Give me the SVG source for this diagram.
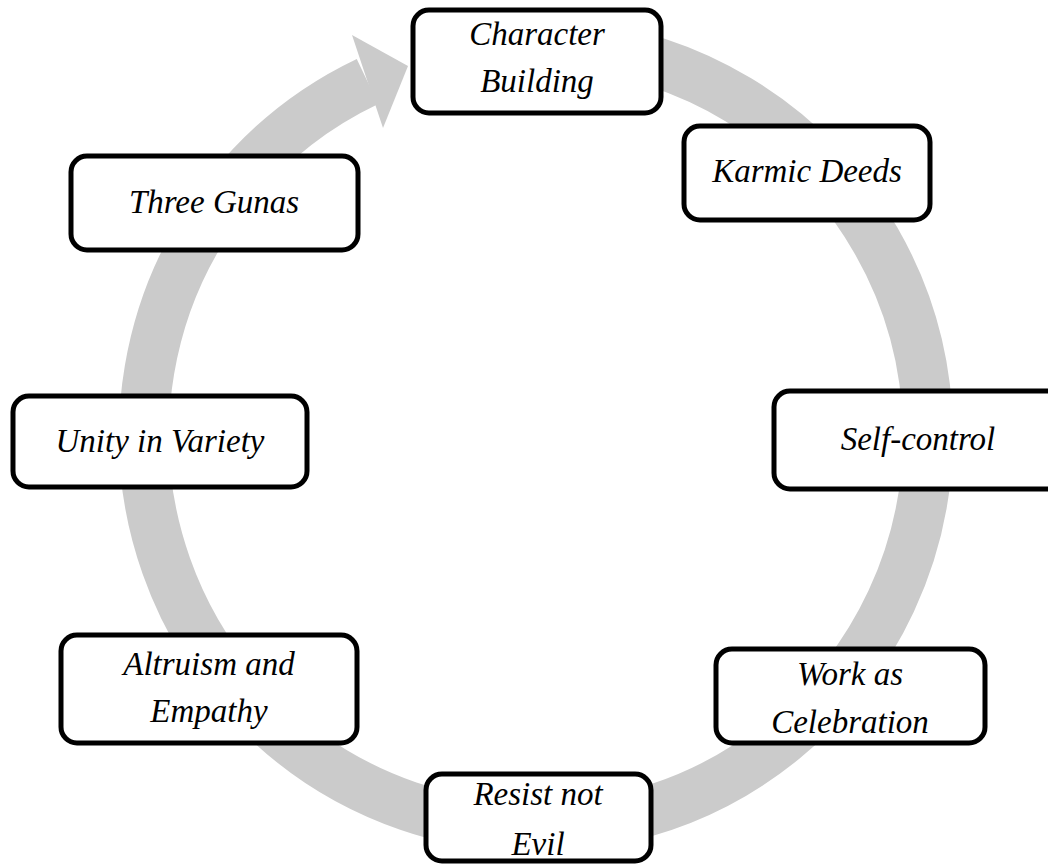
<svg xmlns="http://www.w3.org/2000/svg" width="1048" height="865" viewBox="0 0 1048 865">
  <style>
    .box { fill: #ffffff; stroke: #000000; stroke-width: 5; }
    .lbl { font-family: "Liberation Serif", "DejaVu Serif", serif; font-style: italic; font-size: 33px; fill: #000000; text-anchor: middle; }
    .ring { fill: none; stroke: #cbcbcb; stroke-width: 50; }
    .head { fill: #cbcbcb; }
  </style>
  <rect width="1048" height="865" fill="#ffffff"/>

  <!-- circular flow arrow running clockwise around the cycle -->
  <g id="connectors">
    <path class="ring" d="M 571.7 45.1 A 392 392 0 1 1 367.5 81.5"/>
    <polygon class="head" points="352,35 408,66 383,128"/>
  </g>

  <g id="node-character-building">
    <rect class="box" x="413" y="10" width="248" height="103" rx="16"/>
    <text class="lbl" x="537" y="45">Character</text>
    <text class="lbl" x="537" y="92">Building</text>
  </g>

  <g id="node-karmic-deeds">
    <rect class="box" x="684" y="126" width="246" height="94" rx="16"/>
    <text class="lbl" x="807" y="182">Karmic Deeds</text>
  </g>

  <g id="node-self-control">
    <rect class="box" x="774" y="391" width="290" height="98" rx="16"/>
    <text class="lbl" x="918" y="450">Self-control</text>
  </g>

  <g id="node-work-as-celebration">
    <rect class="box" x="716" y="649" width="269" height="94" rx="16"/>
    <text class="lbl" x="850" y="685">Work as</text>
    <text class="lbl" x="850" y="733">Celebration</text>
  </g>

  <g id="node-resist-not-evil">
    <rect class="box" x="426" y="774" width="225" height="87" rx="16"/>
    <text class="lbl" x="538" y="805">Resist not</text>
    <text class="lbl" x="538" y="855">Evil</text>
  </g>

  <g id="node-altruism-and-empathy">
    <rect class="box" x="61" y="635" width="296" height="108" rx="16"/>
    <text class="lbl" x="209" y="675">Altruism and</text>
    <text class="lbl" x="209" y="722">Empathy</text>
  </g>

  <g id="node-unity-in-variety">
    <rect class="box" x="13" y="396" width="294" height="91" rx="16"/>
    <text class="lbl" x="160" y="452">Unity in Variety</text>
  </g>

  <g id="node-three-gunas">
    <rect class="box" x="71" y="156" width="287" height="94" rx="16"/>
    <text class="lbl" x="214" y="213">Three Gunas</text>
  </g>
</svg>
